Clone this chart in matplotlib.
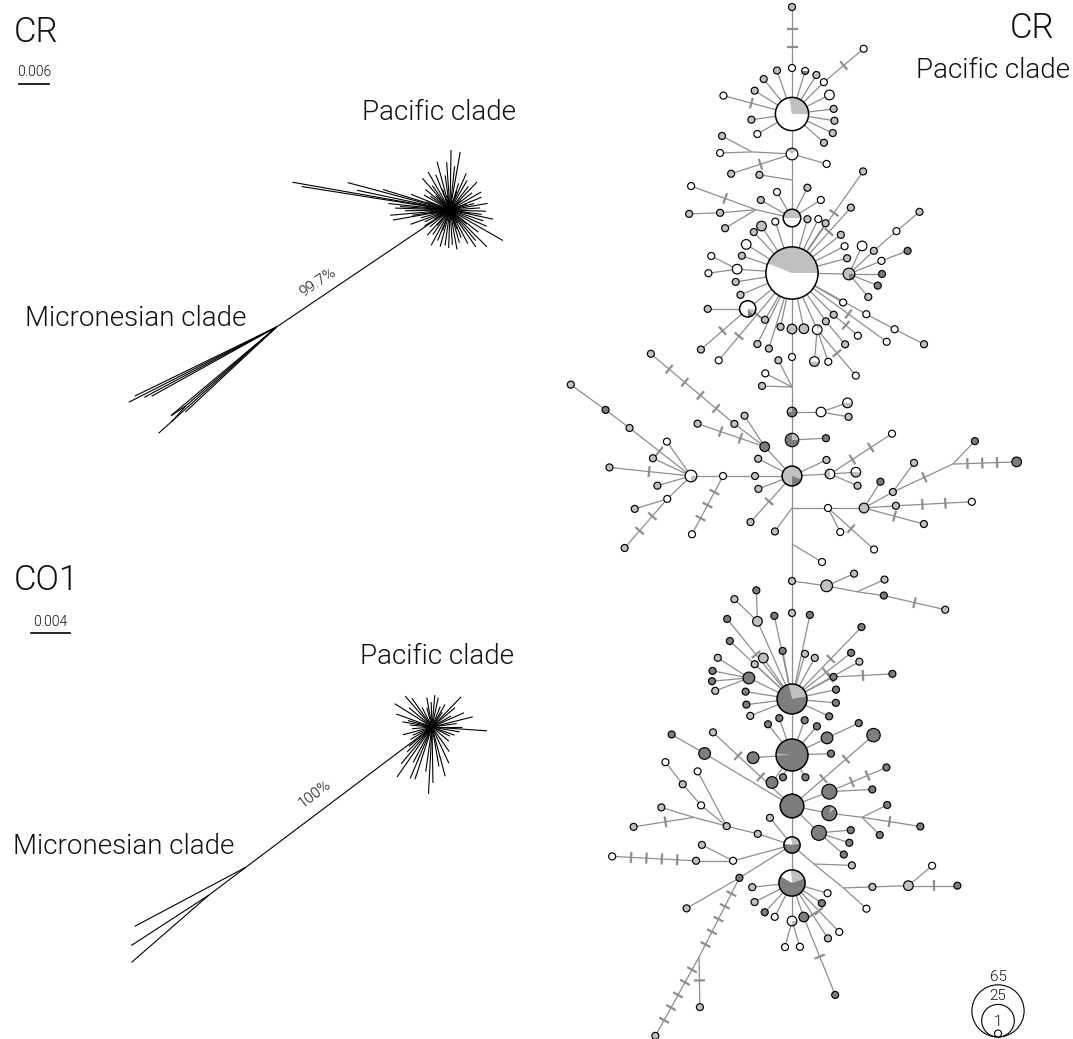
import numpy as np
import matplotlib.pyplot as plt
from matplotlib.patches import Circle, Wedge
from matplotlib.collections import LineCollection

plt.rcParams['font.family'] = ['Roboto', 'DejaVu Sans']
plt.rcParams['font.weight'] = 300

# ---------------------------------------------------------------------------
# Unrooted NJ trees: terminal branches as (angle in degrees, length in px)
# ---------------------------------------------------------------------------
CR_STAR = [(89, 60), (80, 59), (105, 50), (98, 35), (112, 38), (120, 44), (131, 42),
           (126, 30), (140, 32), (150, 30), (158, 42), (163, 70), (165, 106), (168, 95),
           (170, 160), (171, 150), (174, 62), (176, 50), (178, 55), (181, 45),
           (185, 60), (188, 38), (190, 58), (195, 30), (200, 42), (205, 28), (212, 30),
           (220, 26), (228, 34), (235, 30), (242, 40), (248, 33), (255, 38), (262, 36),
           (268, 38), (274, 35), (280, 40), (286, 34), (292, 30), (298, 38), (305, 45),
           (310, 40), (315, 52), (322, 36), (330, 61), (336, 40), (342, 35), (348, 44),
           (352, 32), (358, 36), (4, 30), (10, 38), (15, 25), (22, 34), (30, 36), (38, 28),
           (46, 39), (52, 30), (60, 34), (66, 40), (72, 28), (84, 44), (94, 48), (135, 20),
           (145, 24), (160, 25), (175, 22), (190, 20), (210, 18), (230, 20), (250, 22),
           (290, 20), (320, 22), (350, 20), (20, 18), (70, 20), (110, 22), (200, 15),
           (300, 15), (40, 15), (100, 15)]
CR_STEM = (214, 209)
CR_MICRO = [(207, 166), (206, 158), (209, 143), (208, 150), (222, 159), (223, 125), (220, 138)]

CO1_STAR = [(85, 32), (78, 30), (92, 25), (131, 41), (125, 35), (148, 44), (140, 30),
            (117, 22), (105, 20), (68, 22), (60, 26), (46, 42), (40, 30), (30, 22),
            (24, 35), (14, 42), (8, 25), (-4, 55), (-10, 28), (-20, 24), (-27, 20),
            (-40, 22), (-55, 30), (-65, 40), (-75, 51), (-80, 40), (-89, 56), (-93, 67),
            (-98, 45), (-108, 55), (-113, 56), (-118, 40), (-125, 61), (-130, 48),
            (-135, 35), (-140, 30), (175, 22), (165, 25), (185, 20), (195, 30), (203, 21),
            (210, 25), (160, 38), (170, 30), (100, 30), (55, 18), (0, 30)]
CO1_STEM = (217, 233)
CO1_MICRO = [(208, 126)]
CO1_MICRO_INNER = (217, 46)
CO1_MICRO_SUB = [(213, 93), (221, 103)]

# ---------------------------------------------------------------------------
# CR haplotype network: id, parent, angle (deg), length (px), mutation ticks,
# haplotype count, fill ('w' white, 'l' light, 'd' dark, or a pie key)
# ---------------------------------------------------------------------------
NODES = [
    ("A", None, 0, 0, 0, 26, "pA"),
    ("a1", "A", 90, 46, 0, 1, "w"), ("a1t", "a1", 90, 61, 2, 1, "l"),
    ("a2", "A", 109, 46, 0, 1, "l"), ("a3", "A", 73, 45, 0, 1, "p_wd"),
    ("a4", "A", 58, 46, 0, 1, "l"), ("a5", "A", 45, 45, 0, 1, "w"),
    ("a5t", "a5", 40, 52, 1, 1, "w"), ("a6", "A", 129, 45, 0, 1, "l"),
    ("a7", "A", 148, 44, 0, 1, "l"), ("a8", "A", 27, 42, 0, 2, "w"),
    ("a9", "A", 7, 42, 0, 1, "l"), ("a10", "A", -9, 43, 0, 1, "l"),
    ("a11", "A", -25, 45, 0, 1, "l"), ("a12", "A", -42, 43, 0, 1, "l"),
    ("a13", "A", 165, 71, 1, 1, "w"), ("a14", "A", 188, 41, 0, 1, "l"),
    ("a15", "A", 210, 40, 0, 1, "w"),
    ("B", "A", -90, 40, 0, 3, "pB"),
    ("b1", "B", -16, 36, 0, 1, "w"), ("jb", "B", 177, 40, 0, 0, ""),
    ("b2", "jb", 182, 32, 0, 1, "w"), ("b3", "jb", 152, 34, 0, 1, "l"),
    ("b4", "B", 198, 64, 1, 1, "l"),
    ("J1", "B", -90, 26, 0, 0, ""), ("j1a", "J1", 171, 33, 0, 1, "l"),
    ("C", "J1", -90, 38, 0, 7, "pC"),
    ("c1", "C", 120, 30, 0, 1, "w"), ("c2", "C", 63, 34, 0, 1, "l"),
    ("c3", "C", 32, 34, 0, 1, "w"), ("c4", "C", 150, 36, 0, 1, "l"),
    ("jc", "C", 167, 37, 0, 0, ""), ("c5", "jc", 160, 69, 1, 1, "w"),
    ("c6", "jc", 185, 36, 0, 1, "l"), ("c6t", "c6", 182, 31, 0, 1, "l"),
    ("c7", "jc", 211, 36, 0, 1, "l"),
    ("D", "C", -90, 55, 0, 65, "pD"),
    ("d1", "D", 123, 56, 0, 2, "l"), ("d2", "D", 108, 54, 0, 1, "w"),
    ("d3", "D", 133, 56, 0, 1, "l"), ("d4", "D", 74, 56, 0, 1, "l"),
    ("d5", "D", 64, 60, 0, 1, "w"), ("d6", "D", 56, 60, 0, 1, "l"),
    ("d7", "D", 55, 124, 1, 1, "l"), ("d8", "D", 48, 88, 1, 1, "l"),
    ("d9", "D", 38, 62, 0, 1, "l"), ("d10", "D", 27, 59, 0, 1, "w"),
    ("d11", "D", 15, 57, 0, 1, "l"), ("d12", "D", 148, 54, 0, 2, "w"),
    ("d13", "D", 161, 53, 0, 1, "l"),
    ("K", "D", 176, 55, 0, 2, "w"), ("k1", "K", 153, 29, 0, 1, "w"),
    ("k2", "K", 188, 29, 0, 1, "w"),
    ("d14", "D", 189, 57, 0, 1, "l"), ("d15", "D", 203, 56, 0, 1, "l"),
    ("W", "D", 219, 57, 0, 6, "pW"), ("w1", "W", 180, 40, 0, 1, "l"),
    ("w2", "W", 221, 62, 1, 1, "l"),
    ("d16", "D", 230, 114, 2, 1, "w"), ("d17", "D", 240, 54, 0, 1, "l"),
    ("d18", "D", 244, 79, 0, 1, "l"), ("d19", "D", 253, 79, 0, 1, "l"),
    ("d20", "D", 258, 55, 0, 1, "l"), ("d21", "D", 282, 57, 0, 2, "l"),
    ("V", "D", 294, 62, 0, 2, "pV"), ("v1", "V", 265, 32, 0, 2, "pV1"),
    ("v2", "V", 289, 34, 0, 1, "w"), ("v3", "V", 310, 60, 1, 1, "w"),
    ("d22", "D", 305, 59, 0, 1, "l"), ("d24", "d22", -50, 30, 0, 1, "l"),
    ("d23", "D", 315, 59, 0, 1, "l"), ("d26", "d23", -41, 32, 1, 1, "w"),
    ("d25", "D", 330, 59, 0, 1, "w"), ("d27", "D", 324, 117, 1, 1, "w"),
    ("d28", "D", 331, 85, 0, 1, "w"), ("d28a", "d28", 332, 32, 0, 1, "w"),
    ("d28b", "d28a", 333, 33, 0, 1, "l"),
    ("R", "D", -1, 57, 0, 3, "pR"),
    ("r1", "R", 65, 31, 0, 2, "w"), ("r2", "R", 43, 34, 0, 1, "l"),
    ("r2a", "r2", 41, 30, 0, 1, "w"), ("r2b", "r2a", 40, 30, 0, 1, "l"),
    ("r3", "R", 22, 35, 0, 1, "w"), ("r3a", "r3", 21, 28, 0, 1, "d"),
    ("r4", "R", 0, 33, 0, 1, "d"), ("r5", "R", -22, 31, 0, 1, "d"),
    ("r6", "R", -50, 30, 0, 1, "l"),
    ("P1", "D", -90, 56, 0, 2, "l"), ("P2", "P1", -90, 28, 0, 1, "w"),
    ("P3", "P2", -90, 30, 0, 0, ""),
    ("p3a", "P3", 117, 30, 0, 1, "l"), ("p3b", "P3", 153, 30, 0, 1, "w"),
    ("p3c", "P3", 178, 30, 0, 1, "l"),
    ("P4", "P3", -90, 25, 0, 2, "pP4"), ("Q", "P4", 0, 29, 0, 2, "w"),
    ("q1", "Q", 19, 28, 0, 2, "pQ1"), ("q2", "Q", -10, 28, 0, 1, "l"),
    ("P5", "P4", -90, 28, 0, 4, "pP5"), ("p5a", "P5", 3, 34, 0, 1, "d"),
    ("E", "P5", -90, 36, 0, 9, "pE"),
    ("U", "E", 133, 40, 0, 2, "d"), ("u1", "U", 123, 37, 0, 1, "l"),
    ("u2", "U", 143, 38, 0, 1, "l"), ("u2t", "u2", 140, 109, 4, 1, "l"),
    ("u3", "U", 161, 71, 2, 1, "l"),
    ("e1", "E", 153, 38, 0, 1, "l"), ("e2", "E", 180, 37, 0, 1, "l"),
    ("e2a", "e2", 180, 32, 0, 1, "w"), ("L", "e2a", 180, 32, 0, 3, "pL"),
    ("e2b", "e2a", 242, 66, 3, 1, "w"),
    ("e3", "E", 201, 36, 0, 1, "l"), ("e4", "E", 228, 62, 1, 1, "l"),
    ("e5", "E", 25, 38, 0, 1, "l"),
    ("X", "E", 3, 38, 0, 2, "pX"), ("x1", "X", 4, 26, 0, 2, "pX1"),
    ("x2", "X", -23, 30, 0, 1, "l"), ("x3", "X", 33, 74, 2, 1, "w"),
    ("l1", "L", 125, 42, 0, 1, "w"), ("l2", "L", 155, 42, 0, 1, "l"),
    ("l3", "L", 142, 78, 1, 1, "l"), ("l3a", "l3", 143, 30, 0, 1, "d"),
    ("l3b", "l3a", 144, 43, 0, 1, "l"), ("l4", "L", 174, 82, 1, 1, "l"),
    ("l5", "L", 196, 35, 0, 1, "l"),
    ("Y", "L", 224, 33, 0, 1, "w"), ("y1", "Y", 197, 34, 0, 1, "l"),
    ("y2", "Y", 229, 65, 2, 1, "l"),
    ("E2", "E", -90, 32, 0, 0, ""), ("e6", "E2", 234, 29, 0, 1, "l"),
    ("e7", "E2", 0, 36, 0, 1, "w"), ("e7a", "e7", 297, 27, 0, 1, "w"),
    ("e7b", "e7", 318, 62, 1, 1, "w"),
    ("Z", "e7", 0, 36, 0, 2, "l"), ("z1", "Z", 58, 31, 0, 1, "d"),
    ("z2", "Z", 29, 33, 0, 1, "l"), ("z2a", "z2", 54, 36, 0, 1, "l"),
    ("jz", "z2", 25, 66, 1, 0, ""), ("jz1", "jz", 46, 32, 0, 1, "d"),
    ("jz2", "jz", 2, 64, 3, 2, "d"),
    ("z3", "Z", 4, 32, 0, 1, "l"), ("z3a", "z3", 3, 76, 2, 1, "w"),
    ("z4", "Z", -15, 62, 1, 1, "l"),
    ("E3", "E2", -90, 36, 0, 0, ""), ("e8", "E3", -31, 35, 0, 1, "w"),
    ("N1", "E3", -90, 37, 0, 1, "l"),
    ("M", "N1", -8, 35, 0, 3, "l"), ("m1", "M", 24, 30, 0, 1, "l"),
    ("jm", "M", -11, 31, 0, 0, ""), ("m2", "jm", 24, 30, 0, 1, "l"),
    ("m3", "jm", -8, 27, 0, 1, "d"), ("m3a", "m3", -13, 63, 1, 1, "l"),
    ("N2", "N1", -90, 32, 0, 1, "l"),
    ("F", "N2", -90, 86, 0, 21, "pF"),
    ("f1", "F", 102, 85, 0, 1, "d"), ("f2", "F", 78, 86, 0, 1, "d"),
    ("f3", "F", 101, 49, 0, 1, "d"), ("f4", "F", 74, 47, 0, 1, "l"),
    ("f5", "F", 61, 47, 0, 1, "l"),
    ("G1", "F", 114, 85, 0, 2, "l"), ("g1a", "G1", 136, 32, 0, 1, "l"),
    ("g1b", "G1", 92, 31, 0, 1, "d"),
    ("f6", "F", 129, 103, 1, 1, "d"), ("f7", "F", 137, 85, 0, 1, "d"),
    ("f8", "F", 125, 50, 0, 2, "l"), ("f9", "F", 137, 51, 0, 1, "l"),
    ("G2", "F", 154, 48, 0, 3, "d"), ("g2a", "G2", 147, 37, 0, 1, "l"),
    ("g2b", "G2", 169, 37, 0, 1, "d"), ("g2c", "G2", 185, 37, 0, 1, "d"),
    ("g2d", "G2", 201, 36, 0, 1, "l"),
    ("f10", "F", 171, 47, 0, 1, "d"), ("f11", "F", 187, 46, 0, 1, "d"),
    ("f12", "F", 202, 45, 0, 1, "l"),
    ("f13", "F", 46, 100, 1, 1, "d"), ("f14", "F", 38, 75, 1, 1, "d"),
    ("f15", "F", 29, 77, 1, 1, "l"),
    ("f16", "F", 28, 47, 0, 1, "d"), ("f16a", "f16", 3, 59, 1, 1, "d"),
    ("f17", "F", 12, 45, 0, 1, "d"), ("f18", "F", -5, 44, 0, 1, "d"),
    ("f19", "F", -25, 41, 0, 1, "d"),
    ("G", "F", -90, 56, 0, 24, "pG"),
    ("g1", "G", 128, 39, 0, 1, "d"), ("g2", "G", 109, 39, 0, 1, "d"),
    ("g3", "G", 70, 37, 0, 1, "d"), ("g4", "G", 49, 38, 0, 1, "d"),
    ("g5", "G", 26, 39, 0, 3, "d"), ("g5a", "g5", 25, 35, 0, 1, "d"),
    ("g6", "G", 2, 39, 0, 1, "d"), ("g7", "G", 184, 39, 0, 3, "d"),
    ("g8", "G", 248, 24, 0, 1, "d"), ("g9", "G", 301, 26, 0, 1, "d"),
    ("g10", "G", 234, 34, 0, 3, "d"),
    ("H", "G", -90, 51, 0, 13, "d"),
    ("h1", "H", 21, 40, 0, 5, "d"), ("h1a", "h1", 3, 43, 0, 1, "d"),
    ("h3", "h1", 23, 62, 2, 1, "d"),
    ("h2", "H", 41, 108, 2, 4, "d"),
    ("h4", "H", -11, 38, 0, 5, "pH4"), ("jk", "h4", -7, 33, 0, 0, ""),
    ("jk1", "jk", 26, 28, 0, 1, "d"), ("jk2", "jk", -45, 25, 0, 1, "d"),
    ("jk3", "jk", -9, 59, 1, 1, "d"),
    ("h5", "H", -45, 38, 0, 5, "d"), ("h5a", "h5", 5, 32, 0, 1, "d"),
    ("h5b", "h5", -18, 32, 0, 1, "d"), ("h5c", "h5", -41, 33, 0, 1, "d"),
    ("h6", "H", 149, 102, 0, 3, "d"), ("h6a", "h6", 150, 38, 0, 1, "d"),
    ("h7", "H", 137, 108, 2, 1, "l"),
    ("I", "H", -90, 39, 0, 6, "pI"),
    ("i1", "I", 129, 35, 0, 1, "l"), ("i2", "I", 162, 36, 0, 1, "l"),
    ("Q2", "i2", 166, 32, 0, 1, "l"), ("q2a", "Q2", 141, 33, 0, 1, "w"),
    ("q2b", "q2a", 131, 28, 0, 1, "l"), ("q2c", "q2b", 128, 28, 0, 1, "w"),
    ("q2d", "Q2", 118, 62, 0, 1, "w"), ("jq", "Q2", 165, 34, 0, 0, ""),
    ("jq1", "jq", 163, 34, 0, 1, "l"), ("jq2", "jq", 189, 61, 1, 1, "l"),
    ("jI1", "I", -41, 29, 0, 0, ""), ("ji1", "jI1", -2, 38, 0, 1, "l"),
    ("jI2", "jI1", -39, 38, 0, 0, ""), ("ji2", "jI2", 2, 29, 0, 1, "l"),
    ("ji2a", "ji2", 2, 36, 0, 2, "l"), ("ji2b", "ji2a", 40, 31, 0, 1, "w"),
    ("ji2c", "ji2a", 0, 49, 1, 1, "d"), ("ji3", "jI2", -42, 31, 0, 1, "w"),
    ("i3", "I", 195, 61, 0, 1, "w"), ("i3a", "i3", 153, 35, 0, 1, "l"),
    ("i3b", "i3", 180, 37, 0, 1, "l"), ("i3c", "i3b", 177, 84, 4, 1, "w"),
    ("i4", "I", 212, 62, 0, 1, "d"), ("i4a", "i4", 210, 61, 0, 1, "l"),
    ("jb2", "i4", 243, 89, 5, 0, ""), ("jb2a", "jb2", 241, 90, 5, 1, "l"),
    ("jb2b", "jb2", 271, 50, 1, 1, "l"),
    ("J", "I", -90, 38, 0, 16, "pJ"),
    ("j1", "J", 186, 40, 0, 1, "l"), ("j2", "J", 207, 42, 0, 1, "l"),
    ("j3", "J", 227, 40, 0, 1, "d"), ("j4", "J", 243, 38, 0, 1, "w"),
    ("K2", "J", -90, 38, 0, 2, "pK2"), ("k2a", "K2", 255, 27, 0, 1, "w"),
    ("k2b", "K2", 287, 27, 0, 1, "w"),
    ("j5", "J", 289, 36, 0, 2, "d"), ("j5a", "j5", 292, 84, 1, 1, "d"),
    ("j6", "J", 326, 36, 0, 1, "d"), ("j7", "J", 344, 37, 0, 1, "w"),
    ("j8", "J", 303, 66, 1, 1, "l"), ("j9", "J", 314, 68, 1, 1, "w"),
]

# pie compositions: start angle, [(fraction, class)]
PIES = {
    "pA": (0, [(0.28, "l"), (0.72, "w")]),
    "p_wd": (0, [(0.5, "w"), (0.5, "d")]),
    "pB": (40, [(0.28, "l"), (0.72, "w")]),
    "pC": (0, [(0.5, "l"), (0.5, "w")]),
    "pD": (0, [(0.44, "l"), (0.56, "w")]),
    "pW": (270, [(0.12, "d"), (0.12, "l"), (0.76, "w")]),
    "pV": (40, [(0.15, "l"), (0.85, "w")]),
    "pV1": (180, [(0.5, "l"), (0.5, "w")]),
    "pR": (270, [(0.25, "d"), (0.75, "l")]),
    "pP4": (90, [(0.25, "l"), (0.75, "d")]),
    "pP5": (0, [(0.25, "l"), (0.75, "d")]),
    "pQ1": (0, [(0.5, "w"), (0.5, "l")]),
    "pE": (270, [(0.2, "d"), (0.8, "l")]),
    "pL": (270, [(0.25, "l"), (0.75, "w")]),
    "pX": (90, [(0.5, "l"), (0.5, "w")]),
    "pX1": (0, [(0.5, "w"), (0.5, "l")]),
    "pF": (10, [(0.26, "l"), (0.74, "d")]),
    "pG": (175, [(0.02, "l"), (0.98, "d")]),
    "pH4": (45, [(0.08, "l"), (0.92, "d")]),
    "pI": (10, [(0.25, "l"), (0.2, "w"), (0.55, "d")]),
    "pJ": (20, [(0.21, "l"), (0.15, "w"), (0.64, "d")]),
    "pK2": (270, [(0.25, "l"), (0.75, "w")]),
}
LEGEND_N = [65, 25, 1]

# ---------------------------------------------------------------------------
W_PX, H_PX = 1073, 1039
fig = plt.figure(figsize=(W_PX / 100, H_PX / 100), dpi=100)
ax = fig.add_axes([0, 0, 1, 1])
ax.set_xlim(0, W_PX)
ax.set_ylim(H_PX, 0)
ax.set_aspect('equal')
ax.axis('off')

COL = {"w": "#ffffff", "l": "#c0c0c0", "d": "#7d7d7d"}
EDGE = "#8e8e8e"
TXT = "#111111"


def step(p, ang, length):
    a = np.radians(ang)
    return (p[0] + length * np.cos(a), p[1] - length * np.sin(a))


def radius(n):
    return 3.2 * np.sqrt(n) + 0.3 if n > 0 else 0.0


# ---- trees ----
def draw_tree(center, star, stem, micro, inner=None, sub=()):
    segs = [[center, step(center, a, l)] for a, l in star]
    m = step(center, *stem)
    segs.append([center, m])
    segs += [[m, step(m, a, l)] for a, l in micro]
    if inner is not None:
        mi = step(m, *inner)
        segs.append([m, mi])
        segs += [[mi, step(mi, a, l)] for a, l in sub]
    ax.add_collection(LineCollection(segs, colors="black", linewidths=0.8, zorder=2))


draw_tree((450, 210), CR_STAR, CR_STEM, CR_MICRO, (221, 120), [(228, 22), (214, 18)])
draw_tree((432, 727), CO1_STAR, CO1_STEM, CO1_MICRO, CO1_MICRO_INNER, CO1_MICRO_SUB)

big = dict(fontsize=25, color=TXT, va="center")
mid = dict(fontsize=20, color=TXT, va="center", ha="center")

ax.text(14, 32, "CR", ha="left", **big)
ax.text(34, 72, "0.006", fontsize=10, color=TXT, ha="center", va="center")
ax.plot([19, 49], [84, 84], color="black", lw=1.2)
ax.text(439, 113, "Pacific clade", **mid)
ax.text(136, 318, "Micronesian clade", **mid)
ax.text(318, 282, "99.7%", fontsize=11, color=TXT, ha="center", va="center", rotation=34)

ax.text(14, 580, "CO1", ha="left", **big)
ax.text(50, 622, "0.004", fontsize=10, color=TXT, ha="center", va="center")
ax.plot([31, 70], [633, 633], color="black", lw=1.2)
ax.text(437, 656, "Pacific clade", **mid)
ax.text(124, 846, "Micronesian clade", **mid)
ax.text(315, 794, "100%", fontsize=11, color=TXT, ha="center", va="center", rotation=37)

# ---- haplotype network ----
pos, rad = {}, {}
for nid, par, ang, length, ticks, n, fill in NODES:
    pos[nid] = (792, 114) if par is None else step(pos[par], ang, length)
    rad[nid] = radius(n)

edges, tick_segs = [], []
for nid, par, ang, length, ticks, n, fill in NODES:
    if par is None:
        continue
    p, c = np.array(pos[par]), np.array(pos[nid])
    edges.append([tuple(p), tuple(c)])
    if ticks:
        u = (c - p) / np.linalg.norm(c - p)
        v = np.array([-u[1], u[0]])
        a0, a1 = rad[par], np.linalg.norm(c - p) - rad[nid]
        for i in range(1, ticks + 1):
            q = p + u * (a0 + (a1 - a0) * i / (ticks + 1))
            tick_segs.append([tuple(q - v * 5.5), tuple(q + v * 5.5)])

ax.add_collection(LineCollection(edges, colors=EDGE, linewidths=0.9, zorder=2))
ax.add_collection(LineCollection(tick_segs, colors=EDGE, linewidths=1.6, zorder=3))

for nid, par, ang, length, ticks, n, fill in NODES:
    if n == 0:
        continue
    x, y = pos[nid]
    r = rad[nid]
    lw = 1.1 if n > 5 else 0.85
    if fill in PIES:
        start, parts = PIES[fill]
        a = start
        for frac, cls in parts:
            b = a + frac * 360
            ax.add_patch(Wedge((x, y), r, -b, -a, facecolor=COL[cls], edgecolor="none", zorder=4))
            a = b
        ax.add_patch(Circle((x, y), r, fill=False, edgecolor="black", lw=lw, zorder=5))
    else:
        ax.add_patch(Circle((x, y), r, facecolor=COL[fill], edgecolor="black", lw=lw, zorder=4))

ax.text(1054, 28, "CR", ha="right", **big)
ax.text(1070, 70, "Pacific clade", fontsize=20, color=TXT, ha="right", va="center")

# ---- size legend ----
base_y, lx = 1037, 998
for n in LEGEND_N:
    r = radius(n)
    ax.add_patch(Circle((lx, base_y - r), r, facecolor="white" if n == 1 else "none",
                        edgecolor="black", lw=0.8, zorder=6))
    ax.text(lx, base_y - 2 * r - 1, str(n), fontsize=11, color=TXT, ha="center", va="bottom", zorder=7)

fig.savefig("out.png", dpi=100)
